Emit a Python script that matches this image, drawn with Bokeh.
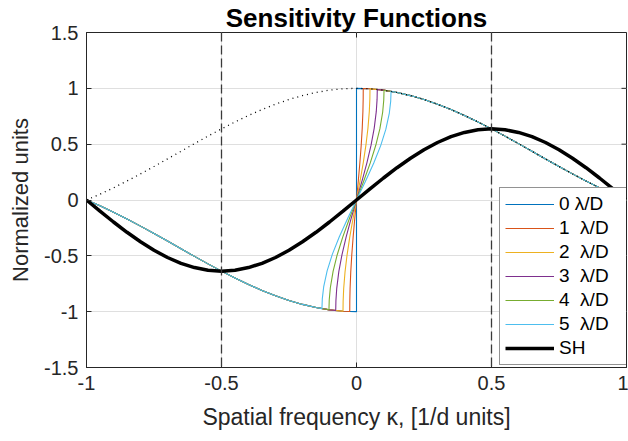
from bokeh.plotting import figure
from bokeh.models import Range1d, FixedTicker, Span, Legend, LegendItem
from bokeh.embed import file_html
from bokeh.resources import INLINE

# ---------------- data ----------------
k_grid = [-1.0, -0.95, -0.9, -0.85, -0.8, -0.75, -0.7, -0.65, -0.6, -0.55, -0.5,
          -0.45, -0.4, -0.35, -0.3, -0.25, -0.2, -0.15, -0.1, -0.05, 0.0,
          0.05, 0.1, 0.15, 0.2, 0.25, 0.3, 0.35, 0.4, 0.45, 0.5,
          0.55, 0.6, 0.65, 0.7, 0.75, 0.8, 0.85, 0.9, 0.95, 1.0]

# dotted envelope
envelope = [0.0, 0.052, 0.109, 0.170, 0.234, 0.300, 0.368, 0.436, 0.505, 0.572, 0.637,
            0.699, 0.757, 0.810, 0.858, 0.900, 0.935, 0.963, 0.984, 0.996, 1.0,
            0.996, 0.984, 0.963, 0.935, 0.900, 0.858, 0.810, 0.757, 0.699, 0.637,
            0.572, 0.505, 0.436, 0.368, 0.300, 0.234, 0.170, 0.109, 0.052, 0.0]

# SH curve
sh = [0.0, -0.100, -0.197, -0.289, -0.374, -0.450, -0.515, -0.567, -0.605, -0.629, -0.637,
      -0.629, -0.605, -0.567, -0.515, -0.450, -0.374, -0.289, -0.197, -0.100, 0.0,
      0.100, 0.197, 0.289, 0.374, 0.450, 0.515, 0.567, 0.605, 0.629, 0.637,
      0.629, 0.605, 0.567, 0.515, 0.450, 0.374, 0.289, 0.197, 0.100, 0.0]

# shared outer branch of the modulated curves
branch = [0.0, -0.052, -0.109, -0.170, -0.234, -0.300, -0.368, -0.436, -0.505, -0.572, -0.637,
          -0.699, -0.757, -0.810, -0.858, -0.900, -0.935, -0.963, -0.984, -0.996, 0.0,
          0.996, 0.984, 0.963, 0.935, 0.900, 0.858, 0.810, 0.757, 0.699, 0.637,
          0.572, 0.505, 0.436, 0.368, 0.300, 0.234, 0.170, 0.109, 0.052, 0.0]

# transition half-widths per modulation
half_width = [0.0, 0.025, 0.05, 0.077, 0.102, 0.128]

core0_k = [0.0, 0.0]
core0_y = [-1.0, 1.0]
core1_k = [-0.025, -0.0248, -0.0238, -0.0213, -0.0175, -0.0125, -0.0063, 0.0,
           0.0063, 0.0125, 0.0175, 0.0213, 0.0238, 0.0248, 0.025]
core1_y = [-0.999, -0.909, -0.797, -0.646, -0.493, -0.333, -0.161, 0.0,
           0.161, 0.333, 0.493, 0.646, 0.797, 0.909, 0.999]
core2_k = [-0.05, -0.0495, -0.0475, -0.0425, -0.035, -0.025, -0.0125, 0.0,
           0.0125, 0.025, 0.035, 0.0425, 0.0475, 0.0495, 0.05]
core2_y = [-0.996, -0.907, -0.795, -0.645, -0.493, -0.333, -0.161, 0.0,
           0.161, 0.333, 0.493, 0.645, 0.795, 0.907, 0.996]
core3_k = [-0.077, -0.0762, -0.0732, -0.0655, -0.0539, -0.0385, -0.0193, 0.0,
           0.0193, 0.0385, 0.0539, 0.0655, 0.0732, 0.0762, 0.077]
core3_y = [-0.990, -0.901, -0.791, -0.642, -0.491, -0.333, -0.161, 0.0,
           0.161, 0.333, 0.491, 0.642, 0.791, 0.901, 0.990]
core4_k = [-0.102, -0.101, -0.0969, -0.0867, -0.0714, -0.051, -0.0255, 0.0,
           0.0255, 0.051, 0.0714, 0.0867, 0.0969, 0.101, 0.102]
core4_y = [-0.983, -0.895, -0.786, -0.639, -0.490, -0.332, -0.161, 0.0,
           0.161, 0.332, 0.490, 0.639, 0.786, 0.895, 0.983]
core5_k = [-0.128, -0.1267, -0.1216, -0.1088, -0.0896, -0.064, -0.032, 0.0,
           0.032, 0.064, 0.0896, 0.1088, 0.1216, 0.1267, 0.128]
core5_y = [-0.973, -0.886, -0.779, -0.634, -0.487, -0.331, -0.161, 0.0,
           0.161, 0.331, 0.487, 0.634, 0.779, 0.886, 0.973]

series_labels = ["0 \u03bb/D", "1  \u03bb/D", "2  \u03bb/D", "3  \u03bb/D", "4  \u03bb/D", "5  \u03bb/D"]
sh_label = "SH"
marker_k = [-0.5, 0.5]

x_ticks = [-1, -0.5, 0, 0.5, 1]
x_tick_labels = ["-1", "-0.5", "0", "0.5", "1"]
y_ticks = [-1.5, -1, -0.5, 0, 0.5, 1, 1.5]
y_tick_labels = ["-1.5", "-1", "-0.5", "0", "0.5", "1", "1.5"]

# ---------------- styling ----------------
colors = ["#0072BD", "#D95319", "#EDB120", "#7E2F8E", "#77AC30", "#4DBEEE"]
FONT = "Liberation Sans"
AX = "#262626"
X0, X1, Y0, Y1 = -1, 1, -1.5, 1.5
TICK_X = 0.0185   # ~5 px in x data units
TICK_Y = 0.045    # ~5 px in y data units

p = figure(width=628, height=441, output_backend="svg", toolbar_location=None,
           x_range=Range1d(X0, X1), y_range=Range1d(Y0, Y1),
           min_border_left=86, min_border_right=2, min_border_top=32, min_border_bottom=74)
p.background_fill_color = "white"
p.border_fill_color = "white"
p.outline_line_color = AX
p.outline_line_width = 1

p.title.text = "Sensitivity Functions"
p.title.align = "center"
p.title.text_font = FONT
p.title.text_font_size = "26px"
p.title.text_font_style = "bold"
p.title.text_color = "black"
p.title.standoff = 0
p.title.offset = 0

xt = FixedTicker(ticks=x_ticks)
yt = FixedTicker(ticks=y_ticks)
p.xaxis.ticker = xt
p.yaxis.ticker = yt
p.xaxis.major_label_overrides = {t: s for t, s in zip(x_ticks, x_tick_labels)}
p.yaxis.major_label_overrides = {t: s for t, s in zip(y_ticks, y_tick_labels)}
p.xgrid.ticker = xt
p.ygrid.ticker = yt
p.xgrid.grid_line_color = "#dfdfdf"
p.ygrid.grid_line_color = "#dfdfdf"

for ax in [p.xaxis[0], p.yaxis[0]]:
    ax.axis_line_color = AX
    ax.major_tick_line_color = AX
    ax.major_tick_in = 5
    ax.major_tick_out = 0
    ax.minor_tick_line_color = None
    ax.major_label_text_font = FONT
    ax.major_label_text_font_size = "20px"
    ax.major_label_text_color = AX
    ax.axis_label_text_font = FONT
    ax.axis_label_text_font_style = "normal"
    ax.axis_label_text_color = AX

p.xaxis.axis_label = "Spatial frequency \u03ba, [1/d units]"
p.yaxis.axis_label = "Normalized units"
p.xaxis.axis_label_text_font_size = "23px"
p.yaxis.axis_label_text_font_size = "22px"
p.xaxis.major_label_standoff = 8
p.xaxis.axis_label_standoff = 11
p.yaxis.major_label_standoff = 8
p.yaxis.axis_label_standoff = 8

# inward ticks on the top and right edges of the box
p.segment(x0=x_ticks, y0=[Y1] * len(x_ticks), x1=x_ticks, y1=[Y1 - TICK_Y] * len(x_ticks),
          line_color=AX, line_width=1)
p.segment(x0=[X1] * len(y_ticks), y0=y_ticks, x1=[X1 - TICK_X] * len(y_ticks), y1=y_ticks,
          line_color=AX, line_width=1)

for m in marker_k:
    p.add_layout(Span(location=m, dimension="height", line_color="#3a3a3a",
                      line_width=1.3, line_dash="9 4"))

cores = [(core0_k, core0_y), (core1_k, core1_y), (core2_k, core2_y),
         (core3_k, core3_y), (core4_k, core4_y), (core5_k, core5_y)]

items = []
for i, (ck, cy) in enumerate(cores):
    a = half_width[i]
    xs = [k for k in k_grid if k < -a] + ck + [k for k in k_grid if k > a]
    ys = ([b for k, b in zip(k_grid, branch) if k < -a] + cy +
          [b for k, b in zip(k_grid, branch) if k > a])
    r = p.line(xs, ys, line_color=colors[i], line_width=1.1)
    items.append(LegendItem(label=series_labels[i], renderers=[r]))

r_sh = p.line(k_grid, sh, line_color="black", line_width=3.5)
items.append(LegendItem(label=sh_label, renderers=[r_sh]))

p.line(k_grid, envelope, line_color="black", line_width=1.3, line_dash="1 4")

legend = Legend(items=items, location=(413, 2))
legend.label_text_font = FONT
legend.label_text_font_size = "19px"
legend.label_text_color = "black"
legend.glyph_width = 49
legend.glyph_height = 20
legend.label_height = 20
legend.label_width = 62
legend.label_standoff = 5
legend.spacing = 2
legend.padding = 5
legend.margin = 0
legend.border_line_color = AX
legend.border_line_width = 1
legend.background_fill_color = "white"
legend.background_fill_alpha = 1
p.add_layout(legend, "center")

open("out.html", "w").write(file_html(p, INLINE))
